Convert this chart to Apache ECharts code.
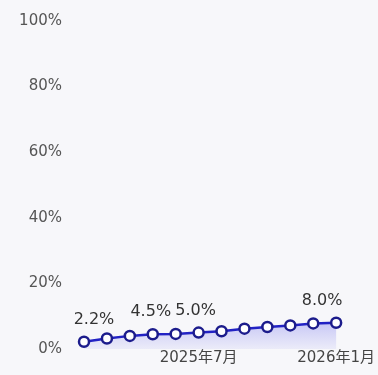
<!DOCTYPE html>
<html><head><meta charset="utf-8">
<script src="https://cdn.jsdelivr.net/npm/echarts@6/dist/echarts.min.js"></script>
<style>html,body{margin:0;padding:0;background:#f7f7fa;}#c{width:378px;height:375px;}</style>
</head><body><div id="c"></div>
<script>
const categories = ['2025年2月','2025年3月','2025年4月','2025年5月','2025年6月','2025年7月','2025年8月','2025年9月','2025年10月','2025年11月','2025年12月','2026年1月'];
const values = [2.2, 3.2, 4.0, 4.5, 4.6, 5.0, 5.4, 6.2, 6.7, 7.2, 7.8, 8.0];
const labeledIndex = [0, 3, 5, 11];
const labelShift = [10, -2, -3, -14];
const yTicks = [0, 20, 40, 60, 80, 100];

const chart = echarts.init(document.getElementById('c'));
chart.setOption({
  backgroundColor: '#f7f7fa',
  animation: false,
  grid: {left: 84, right: 40, top: 21, bottom: 26},
  xAxis: {
    type: 'category', data: categories, boundaryGap: false,
    axisLine: {show: false}, axisTick: {show: false}, splitLine: {show: false},
    axisLabel: {
      interval: function (i) { return i % 6 === 5; },
      color: '#444', fontSize: 15, margin: 2,
      fontFamily: 'DejaVu Sans, Noto Sans CJK SC'
    }
  },
  yAxis: {
    type: 'value', min: yTicks[0], max: yTicks[yTicks.length - 1], interval: 20,
    axisLine: {show: false}, axisTick: {show: false}, splitLine: {show: false},
    axisLabel: {formatter: '{value}%', color: '#555', fontSize: 15, margin: 22, fontFamily: 'DejaVu Sans'}
  },
  series: [{
    type: 'line',
    data: values.map(function (v, i) {
      const k = labeledIndex.indexOf(i);
      return {
        value: v,
        label: k >= 0 ? {show: true, offset: [labelShift[k], 0]} : {show: false}
      };
    }),
    symbol: 'circle', symbolSize: 10,
    itemStyle: {color: '#ffffff', borderColor: '#1c1c8c', borderWidth: 2.5},
    lineStyle: {color: '#2222c4', width: 2.5},
    areaStyle: {
      color: new echarts.graphic.LinearGradient(0, 0, 0, 1, [
        {offset: 0, color: 'rgba(95,95,235,0.45)'},
        {offset: 1, color: 'rgba(110,110,235,0.12)'}
      ])
    },
    label: {
      position: 'top', distance: 8,
      formatter: function (p) { return p.value.toFixed(1) + '%'; },
      color: '#333', fontSize: 16, fontFamily: 'DejaVu Sans'
    }
  }]
});
</script>
</body></html>
